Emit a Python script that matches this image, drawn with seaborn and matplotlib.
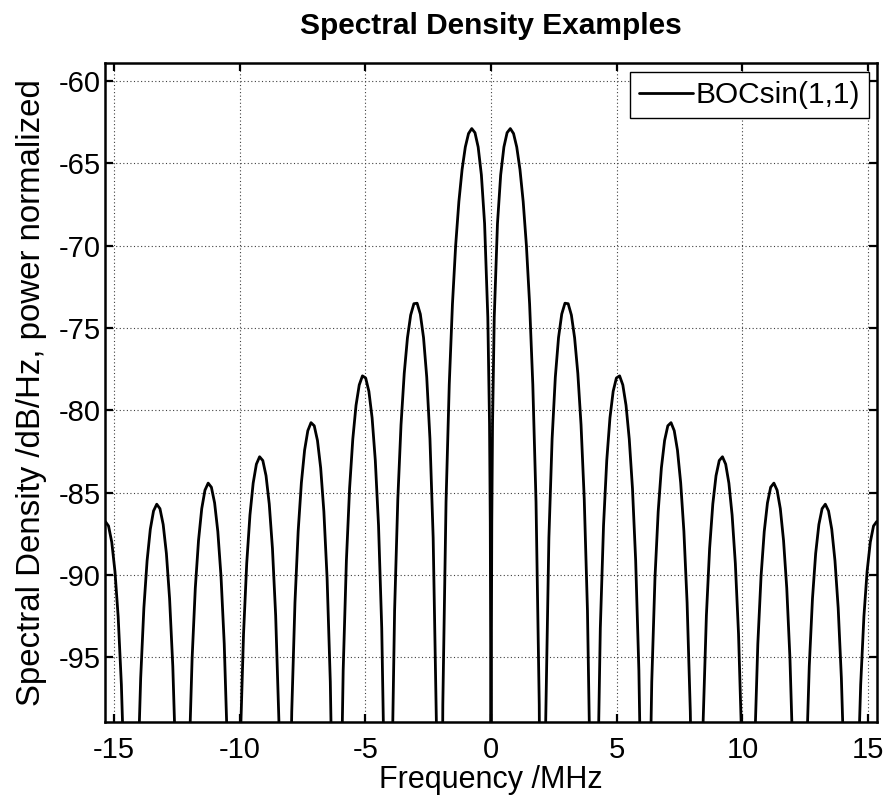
import matplotlib
matplotlib.use("Agg")
import matplotlib.pyplot as plt
import pandas as pd
import seaborn as sns

# ---------------- data ----------------
series_label = "BOCsin(1,1)"
title_text = "Spectral Density Examples"
x_label = "Frequency /MHz"
y_label = "Spectral Density /dB/Hz, power normalized"

x_ticks = [-15, -10, -5, 0, 5, 10, 15]
y_ticks = [-95, -90, -85, -80, -75, -70, -65, -60]

freq_mhz = [
    -15.345, -15.217, -15.089, -14.961, -14.834, -14.706, -14.578, -14.450,
    -14.322, -14.194, -14.066, -13.938, -13.811, -13.683, -13.555, -13.427,
    -13.299, -13.171, -13.043, -12.915, -12.788, -12.660, -12.532, -12.404,
    -12.276, -12.148, -12.020, -11.892, -11.765, -11.637, -11.509, -11.381,
    -11.253, -11.125, -10.997, -10.869, -10.742, -10.614, -10.486, -10.358,
    -10.230, -10.102, -9.974, -9.846, -9.719, -9.591, -9.463, -9.335,
    -9.207, -9.079, -8.951, -8.823, -8.696, -8.568, -8.440, -8.312,
    -8.184, -8.056, -7.928, -7.800, -7.673, -7.545, -7.417, -7.289,
    -7.161, -7.033, -6.905, -6.777, -6.650, -6.522, -6.394, -6.266,
    -6.138, -6.010, -5.882, -5.754, -5.627, -5.499, -5.371, -5.243,
    -5.115, -4.987, -4.859, -4.731, -4.604, -4.476, -4.348, -4.220,
    -4.092, -3.964, -3.836, -3.708, -3.581, -3.453, -3.325, -3.197,
    -3.069, -2.941, -2.813, -2.685, -2.558, -2.430, -2.302, -2.174,
    -2.046, -1.918, -1.790, -1.662, -1.535, -1.407, -1.279, -1.151,
    -1.023, -0.895, -0.767, -0.639, -0.512, -0.384, -0.256, -0.128,
    -0.060, -0.030, -0.010, 0.000, 0.010, 0.030, 0.060,
    0.128, 0.256, 0.384, 0.512, 0.639, 0.767, 0.895, 1.023,
    1.151, 1.279, 1.407, 1.535, 1.662, 1.790, 1.918, 2.046,
    2.174, 2.302, 2.430, 2.558, 2.685, 2.813, 2.941, 3.069,
    3.197, 3.325, 3.453, 3.581, 3.708, 3.836, 3.964, 4.092,
    4.220, 4.348, 4.476, 4.604, 4.731, 4.859, 4.987, 5.115,
    5.243, 5.371, 5.499, 5.627, 5.754, 5.882, 6.010, 6.138,
    6.266, 6.394, 6.522, 6.650, 6.777, 6.905, 7.033, 7.161,
    7.289, 7.417, 7.545, 7.673, 7.800, 7.928, 8.056, 8.184,
    8.312, 8.440, 8.568, 8.696, 8.823, 8.951, 9.079, 9.207,
    9.335, 9.463, 9.591, 9.719, 9.846, 9.974, 10.102, 10.230,
    10.358, 10.486, 10.614, 10.742, 10.869, 10.997, 11.125, 11.253,
    11.381, 11.509, 11.637, 11.765, 11.892, 12.020, 12.148, 12.276,
    12.404, 12.532, 12.660, 12.788, 12.915, 13.043, 13.171, 13.299,
    13.427, 13.555, 13.683, 13.811, 13.938, 14.066, 14.194, 14.322,
    14.450, 14.578, 14.706, 14.834, 14.961, 15.089, 15.217, 15.345,
]

psd_db = [
    -86.75, -87.02, -88.00, -89.78, -92.52, -96.65, -103.07, -114.71,
    -130.0, -114.57, -102.81, -96.26, -92.00, -89.13, -87.22, -86.11,
    -85.70, -85.97, -86.93, -88.69, -91.43, -95.54, -101.95, -113.57,
    -130.0, -113.41, -101.63, -95.06, -90.79, -87.90, -85.97, -84.85,
    -84.42, -84.67, -85.62, -87.36, -90.08, -94.17, -100.56, -112.16,
    -130.0, -111.96, -100.16, -93.57, -89.28, -86.36, -84.42, -83.27,
    -82.82, -83.05, -83.97, -85.69, -88.38, -92.45, -98.80, -110.38,
    -130.0, -110.12, -98.29, -91.67, -87.35, -84.40, -82.42, -81.24,
    -80.75, -80.94, -81.83, -83.50, -86.15, -90.18, -96.49, -108.02,
    -130.0, -107.67, -95.79, -89.12, -84.74, -81.74, -79.70, -78.46,
    -77.91, -78.04, -78.85, -80.46, -83.04, -86.98, -93.22, -104.66,
    -130.0, -104.13, -92.14, -85.37, -80.88, -77.76, -75.60, -74.22,
    -73.53, -73.50, -74.16, -75.59, -77.98, -81.73, -87.74, -98.94,
    -130.0, -97.86, -85.56, -78.44, -73.56, -69.99, -67.33, -65.38,
    -64.02, -63.20, -62.90, -63.15, -64.02, -65.71, -68.67, -74.35,
    -80.83, -86.84, -96.38, -130.0, -96.38, -86.84, -80.83,
    -74.35, -68.67, -65.71, -64.02, -63.15, -62.90, -63.20, -64.02,
    -65.38, -67.33, -69.99, -73.56, -78.44, -85.56, -97.86, -130.0,
    -98.94, -87.74, -81.73, -77.98, -75.59, -74.16, -73.50, -73.53,
    -74.22, -75.60, -77.76, -80.88, -85.37, -92.14, -104.13, -130.0,
    -104.66, -93.22, -86.98, -83.04, -80.46, -78.85, -78.04, -77.91,
    -78.46, -79.70, -81.74, -84.74, -89.12, -95.79, -107.67, -130.0,
    -108.02, -96.49, -90.18, -86.15, -83.50, -81.83, -80.94, -80.75,
    -81.24, -82.42, -84.40, -87.35, -91.67, -98.29, -110.12, -130.0,
    -110.38, -98.80, -92.45, -88.38, -85.69, -83.97, -83.05, -82.82,
    -83.27, -84.42, -86.36, -89.28, -93.57, -100.16, -111.96, -130.0,
    -112.16, -100.56, -94.17, -90.08, -87.36, -85.62, -84.67, -84.42,
    -84.85, -85.97, -87.90, -90.79, -95.06, -101.63, -113.41, -130.0,
    -113.57, -101.95, -95.54, -91.43, -88.69, -86.93, -85.97, -85.70,
    -86.11, -87.22, -89.13, -92.00, -96.26, -102.81, -114.57, -130.0,
    -114.71, -103.07, -96.65, -92.52, -89.78, -88.00, -87.02, -86.75,
]

assert len(freq_mhz) == len(psd_db)

# ---------------- styling ----------------
sns.set_style("white")
plt.rcParams["font.family"] = ["Liberation Sans", "DejaVu Sans"]
plt.rcParams["axes.unicode_minus"] = False
plt.rcParams["text.color"] = "black"
plt.rcParams["axes.labelcolor"] = "black"
plt.rcParams["xtick.color"] = "black"
plt.rcParams["ytick.color"] = "black"

df = pd.DataFrame({"freq": freq_mhz, "psd": psd_db})

fig = plt.figure(figsize=(8.94, 8.0), dpi=100)
ax = fig.add_axes([0.1178, 0.0979, 0.8629, 0.82375])

sns.lineplot(data=df, x="freq", y="psd", ax=ax, color="black",
             linewidth=2.0, label=series_label, estimator=None, sort=False)

ax.set_xlim(-15.345, 15.345)
ax.set_ylim(-98.9, -58.9)
ax.set_xticks(x_ticks)
ax.set_yticks(y_ticks)
ax.set_xticklabels([str(v) for v in x_ticks])
ax.set_yticklabels([str(v) for v in y_ticks])

ax.set_axisbelow(True)
ax.grid(True, linestyle=(0, (1, 2.2)), linewidth=0.8, color="0.25")

for sp in ax.spines.values():
    sp.set_visible(True)
    sp.set_linewidth(1.8)
    sp.set_color("black")

ax.tick_params(axis="both", which="major", direction="in", length=5.8,
               width=1.6, top=True, right=True, bottom=True, left=True,
               labelsize=21, colors="black", labelcolor="black")
ax.tick_params(axis="x", pad=10)
ax.tick_params(axis="y", pad=3.5)

ax.set_xlabel(x_label, fontsize=22, labelpad=1, color="black")
ax.set_ylabel(y_label, fontsize=23.8, labelpad=8, color="black")
ax.set_title(title_text, fontsize=21.5, fontweight="bold", pad=21,
             color="black")

leg = ax.legend(loc="upper right", bbox_to_anchor=(0.9904, 0.9854),
                borderaxespad=0, fancybox=False, framealpha=1,
                edgecolor="black", fontsize=21.5, handlelength=1.8,
                handletextpad=0.1, borderpad=0.3)
leg.get_frame().set_linewidth(1.0)
for t in leg.get_texts():
    t.set_color("black")

fig.savefig("out.png", dpi=100)
